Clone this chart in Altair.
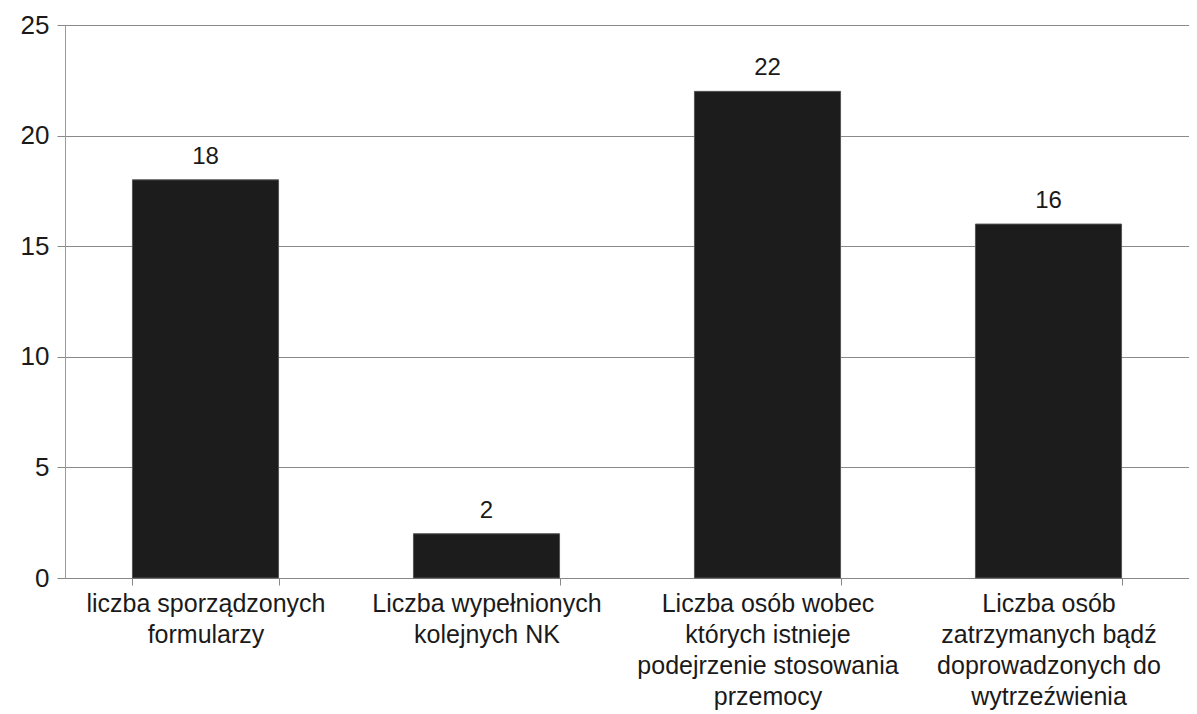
import altair as alt
import pandas as pd

categories = [
    "liczba sporządzonych|formularzy",
    "Liczba wypełnionych|kolejnych NK",
    "Liczba osób wobec|których istnieje|podejrzenie stosowania|przemocy",
    "Liczba osób|zatrzymanych bądź|doprowadzonych do|wytrzeźwienia",
]
values = [18, 2, 22, 16]
y_ticks = [0, 5, 10, 15, 20, 25]

df = pd.DataFrame({"kategoria": categories, "wartosc": values})

FONT = "Liberation Sans"

x = alt.X(
    "kategoria:N",
    sort=categories,
    title=None,
    scale=alt.Scale(paddingInner=0.48, paddingOuter=0.24),
    axis=alt.Axis(
        labelAngle=0,
        labelExpr="split(datum.label, '|')",
        labelFont=FONT,
        labelFontSize=25,
        labelColor="#1a1a1a",
        labelLineHeight=31,
        labelPadding=6,
        labelLimit=400,
        tickBand="extent",
        tickSize=7,
        tickColor="#888888",
        domainColor="#888888",
        labelBaseline="top",
    ),
)
y = alt.Y(
    "wartosc:Q",
    title=None,
    scale=alt.Scale(domain=[0, 25], nice=False),
    axis=alt.Axis(
        values=y_ticks,
        labelFont=FONT,
        labelFontSize=26,
        labelColor="#1a1a1a",
        labelPadding=8,
        tickSize=8,
        tickColor="#888888",
        domainColor="#999999",
        gridColor="#8a8a8a",
        gridWidth=1,
    ),
)

bars = alt.Chart(df).mark_bar(color="#1c1c1c", stroke="#555555", strokeWidth=1).encode(x=x, y=y)
text = alt.Chart(df).mark_text(
    dy=-11, font=FONT, fontSize=24, color="#1a1a1a", baseline="bottom"
).encode(x=alt.X("kategoria:N", sort=categories), y="wartosc:Q", text="wartosc:Q")

chart = (
    (bars + text)
    .properties(
        width=1124,
        height=553,
        autosize=alt.AutoSizeParams(type="none"),
        padding={"left": 57, "top": 17, "right": 0, "bottom": 136},
    )
    .configure_view(stroke=None)
    .configure(background="white")
)

chart.save("out.html", embed_options={"renderer": "svg", "actions": False})
